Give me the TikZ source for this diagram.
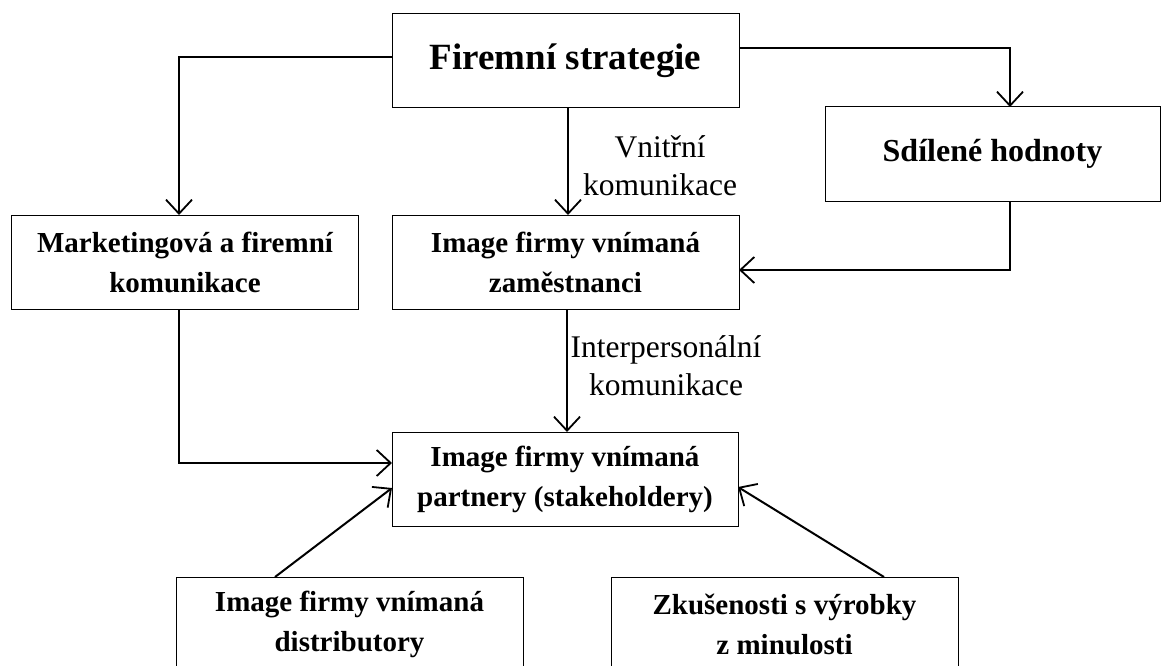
\documentclass[tikz,border=0pt]{standalone}
\usepackage{fontspec}
\setmainfont{Liberation Serif}
\usepackage{tikz}
\usetikzlibrary{arrows.meta, positioning, calc}
\definecolor{lineBlack}{HTML}{000000}
\tikzset{
    % Boxes
    boxNode/.style={rectangle, draw=lineBlack, line width=1pt, fill=white,
        minimum width=347pt, minimum height=94pt, inner sep=0pt, outer sep=0pt,
        align=center, font=\fontsize{29}{40}\selectfont\bfseries},
    % Connectors
    arrowFlow/.style={->, >={Straight Barb[length=14pt,width=26pt,line width=1.8pt]},
        line width=2pt, draw=lineBlack},
    edgeLabel/.style={align=center, inner sep=0pt, font=\fontsize{31.5}{38}\selectfont}
}
\begin{document}
\begin{tikzpicture}[x=1pt, y=-1pt]
    \useasboundingbox (0,0) rectangle (1161,666);

    % Boxes
    \node[boxNode, font=\fontsize{37}{44}\selectfont\bfseries] (strategie) at (565.5,61) {Firemní strategie};
    \node[boxNode, minimum width=335pt, font=\fontsize{32}{40}\selectfont\bfseries] (hodnoty) at (992.5,154) {Sdílené hodnoty};
    \node[boxNode] (marketing) at (185,262) {Marketingová a firemní\\komunikace};
    \node[boxNode] (zamestnanci) at (565.5,262) {Image firmy vnímaná\\zaměstnanci};
    \node[boxNode, minimum width=346pt] (partneri) at (565,479) {Image firmy vnímaná\\partnery (stakeholdery)};
    \node[boxNode] (distributori) at (349.5,624) {Image firmy vnímaná\\distributory};
    \node[boxNode] (zkusenosti) at (784.5,624) {Zkušenosti s výrobky\\z minulosti};

    % Labels
    \node[edgeLabel] (vnitrni) at (660,166) {Vnitřní\\komunikace};
    \node[edgeLabel] (interpers) at (666,366) {Interpersonální\\komunikace};

    % Arrows
    \draw[arrowFlow] ([yshift=4pt]strategie.west) -| ([xshift=-6pt]marketing.north);
    \draw[arrowFlow] ([yshift=13pt]strategie.east) -| ([xshift=17.5pt]hodnoty.north);
    \draw[arrowFlow] ([xshift=2.5pt]strategie.south) -- ([xshift=2.5pt]zamestnanci.north);
    \draw[arrowFlow] ([xshift=17pt]hodnoty.south) |- ([yshift=-8pt]zamestnanci.east);
    \draw[arrowFlow] ([xshift=-6pt]marketing.south) |- ([yshift=16pt]partneri.west);
    \draw[arrowFlow] ([xshift=1.5pt]zamestnanci.south) -- ([xshift=2pt]partneri.north);
    \draw[arrowFlow] ([xshift=-74.5pt]distributori.north) -- ([yshift=-9pt]partneri.west);
    \draw[arrowFlow] ([xshift=99.5pt]zkusenosti.north) -- ([yshift=-8pt]partneri.east);
\end{tikzpicture}
\end{document}
